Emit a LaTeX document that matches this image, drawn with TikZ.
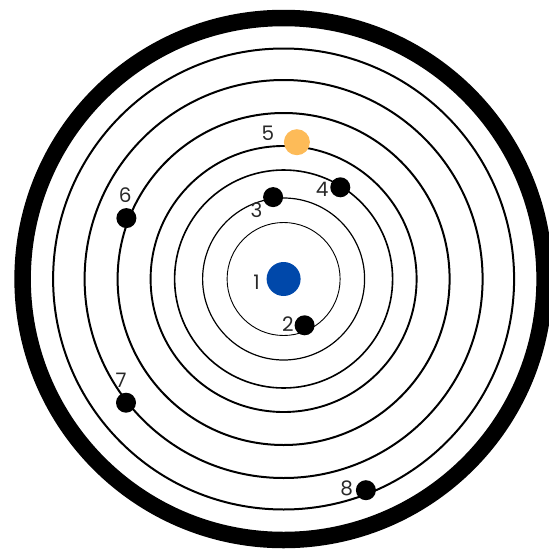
\documentclass[tikz,border=0pt]{standalone}
\usepackage{fontspec}
\setmainfont{Poppins}
\usepackage{tikz}
\definecolor{sunblue}{RGB}{0, 72, 170}
\definecolor{starorange}{RGB}{253, 187, 88}
\definecolor{numgray}{RGB}{40, 40, 40}

\begin{document}
\begin{tikzpicture}[x=1pt, y=-1pt,
    orbit/.style={draw=black, line width=#1},
    planet/.style={circle, fill=black, minimum size=20pt, inner sep=0pt},
    num/.style={text=numgray, font=\fontsize{20}{20}\selectfont, inner sep=0pt}]
  \useasboundingbox (0,0) rectangle (549,549);
  % orbits around the centre
  \coordinate (c) at (283.6,279);
  \foreach \r/\w in {56.5/0.9, 81/1.2, 109/1.6, 133/1.9, 166/2, 199/2, 230.5/2} {
    \draw[orbit=\w] (c) circle (\r);
  }
  \draw[orbit=16.5] (c) circle (261);
  % bodies on the orbits
  \node[circle, fill=sunblue, minimum size=34pt, inner sep=0pt] (p1) at (c) {};
  \node[planet] (p2) at (304.6,325.3) {};
  \node[planet] (p3) at (273.1,197.1) {};
  \node[planet] (p4) at (340.3,187.3) {};
  \node[circle, fill=starorange, minimum size=26pt, inner sep=0pt] (p5) at (296.9,142.2) {};
  \node[planet] (p6) at (126.4,218.1) {};
  \node[planet] (p7) at (126,402.7) {};
  \node[planet] (p8) at (365.9,490.2) {};
  % numbers
  \node[num] (n1) at (256.6,282.6) {1};
  \node[num] (n2) at (287.8,323.9) {2};
  \node[num] (n3) at (256.6,210.1) {3};
  \node[num] (n4) at (322.1,189.4) {4};
  \node[num] (n5) at (267.9,133) {5};
  \node[num] (n6) at (125.3,195) {6};
  \node[num] (n7) at (121.1,380) {7};
  \node[num] (n8) at (346.6,488.4) {8};
\end{tikzpicture}
\end{document}
